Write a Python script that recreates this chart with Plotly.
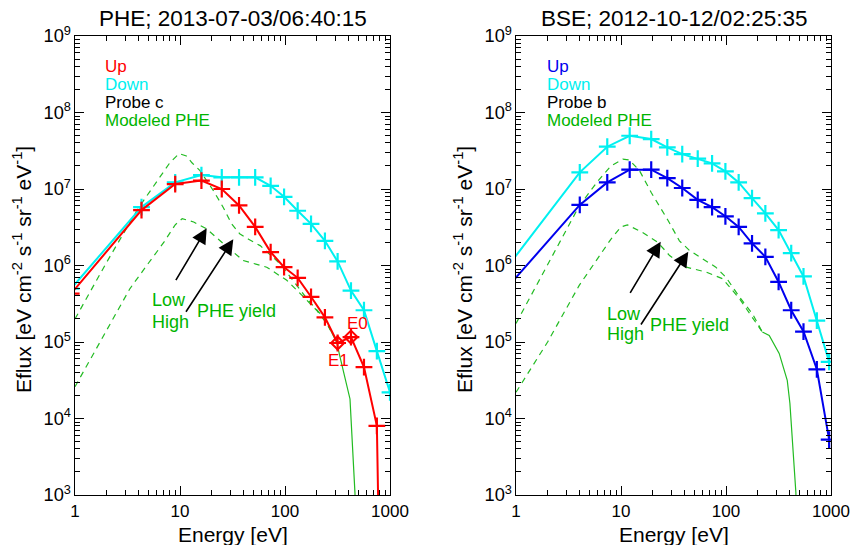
import plotly.graph_objects as go

# ---------------- data: left panel (PHE; 2013-07-03/06:40:15) ----------------
L_energy = [0.92, 4.3, 9.0, 16.0, 25.0, 36.5, 52.0, 73.0, 98.0, 132.0, 177.0, 240.0, 317.0, 425.0, 565.0, 750.0, 1000.0]
L_up = [4.3e5, 5.3e6, 1.16e7, 1.29e7, 1.0e7, 6.1e6, 3.2e6, 1.5e6, 9.5e5, 6.9e5, 3.9e5, 2.1e5, 9.7e4, 1.16e5, 4.7e4, 8.0e3, 1e-6]
L_down = [5.0e5, 5.8e6, 1.22e7, 1.52e7, 1.42e7, 1.42e7, 1.42e7, 1.1e7, 7.9e6, 5.2e6, 3.5e6, 2.1e6, 1.13e6, 4.7e5, 2.6e5, 7.6e4, 2.2e4]
L_E_marks = [317.0, 425.0]
L_F_marks = [9.7e4, 1.16e5]
L_mark_labels = ["E1", "E0"]

L_high_E = [1, 2, 4, 6, 8, 9.8, 11.5, 13, 15.5, 20.8, 25.9, 31, 37, 45, 58, 90, 120, 167, 232, 272]
L_high_F = [2.0e5, 1.1e6, 5.6e6, 1.25e7, 2.2e7, 2.9e7, 2.7e7, 2.2e7, 1.74e7, 9.5e6, 5.7e6, 3.5e6, 2.6e6, 2.2e6, 1.82e6, 1.05e6, 6.4e5, 3.5e5, 2.1e5, 1.42e5]
L_low_E = [1, 2, 3.34, 5, 7, 9, 10.5, 13.5, 18, 26, 40, 67, 104, 150, 200, 250, 272]
L_low_F = [2.6e4, 1.43e5, 5.0e5, 1.07e6, 2.0e6, 3.4e6, 4.1e6, 3.7e6, 3.0e6, 1.92e6, 1.16e6, 9.5e5, 6.4e5, 3.9e5, 2.6e5, 1.74e5, 1.42e5]
L_tail_E = [272, 313, 334, 416, 464, 480]
L_tail_F = [1.42e5, 9.6e4, 6.4e4, 1.8e4, 1.05e3, 1e2]

# ---------------- data: right panel (BSE; 2012-10-12/02:25:35) ----------------
R_energy = [0.8, 4.05, 7.4, 12.1, 19.4, 27.6, 38.3, 53.8, 73.7, 98.7, 132.0, 177.0, 237.0, 317.0, 418.0, 547.0, 733.0, 960.0]
R_up = [4.9e5, 6.2e6, 1.22e7, 1.79e7, 1.79e7, 1.39e7, 1.03e7, 7.2e6, 5.8e6, 4.4e6, 3.2e6, 1.95e6, 1.3e6, 6.1e5, 2.6e5, 1.37e5, 4.4e4, 5.3e3]
R_down = [9.0e5, 1.65e7, 3.57e7, 4.97e7, 4.5e7, 3.5e7, 2.86e7, 2.5e7, 2.16e7, 1.7e7, 1.22e7, 7.6e6, 4.8e6, 2.9e6, 1.45e6, 7.2e5, 1.9e5, 5.5e4]

R_high_E = [1, 2, 4, 6, 8, 10.4, 12, 15, 19.4, 28, 36, 45, 60, 80, 100, 134, 180, 222]
R_high_F = [1.75e5, 1.03e6, 6.0e6, 1.26e7, 2.0e7, 2.45e7, 2.4e7, 1.74e7, 9.0e6, 3.9e6, 2.1e6, 1.57e6, 1.22e6, 9.5e5, 7.0e5, 3.9e5, 2.3e5, 1.35e5]
R_low_E = [1, 2, 4, 6, 8, 10, 11.5, 16, 22.5, 29, 42, 65, 93, 134, 180, 222]
R_low_F = [2.2e4, 1.0e5, 5.5e5, 1.26e6, 2.2e6, 3.2e6, 3.4e6, 2.7e6, 2.0e6, 1.35e6, 9.5e5, 8.2e5, 6.7e5, 3.7e5, 2.1e5, 1.35e5]
R_tail_E = [222, 258, 321, 383, 406, 463, 490]
R_tail_F = [1.35e5, 1.22e5, 7.1e4, 3.16e4, 1.58e4, 1.07e3, 1e1]

left_title = "PHE; 2013-07-03/06:40:15"
right_title = "BSE; 2012-10-12/02:25:35"
left_legend = [("Up", "#ff0000"), ("Down", "#00f0f0"), ("Probe c", "#000000"), ("Modeled PHE", "#00b400")]
right_legend = [("Up", "#0000ee"), ("Down", "#00f0f0"), ("Probe b", "#000000"), ("Modeled PHE", "#00b400")]

RED = "#ff0000"
CYAN = "#00f0f0"
BLUE = "#0000ee"
GREEN = "#22bb22"
GTEXT = "#00b400"
FONT = "Liberation Sans, Arial, Helvetica, sans-serif"

W, H = 859, 545


def P(px, py):
    return px / W, (H - py) / H


fig = go.Figure()


def curve(E, F, color, xa, ya, marker=True):
    fig.add_trace(go.Scatter(
        x=E, y=F, mode="lines+markers" if marker else "lines",
        line=dict(color=color, width=2),
        marker=dict(symbol="cross-thin", size=12, line=dict(color=color, width=2.2)) if marker else None,
        xaxis=xa, yaxis=ya, showlegend=False))


def model(E, F, xa, ya, dash=True):
    fig.add_trace(go.Scatter(
        x=E, y=F, mode="lines",
        line=dict(color=GREEN, width=1.2, dash="6px,5px" if dash else "solid"),
        xaxis=xa, yaxis=ya, showlegend=False))


# left panel
model(L_high_E, L_high_F, "x", "y")
model(L_low_E, L_low_F, "x", "y")
model(L_tail_E, L_tail_F, "x", "y", dash=False)
curve(L_energy, L_down, CYAN, "x", "y")
curve(L_energy, L_up, RED, "x", "y")
fig.add_trace(go.Scatter(
    x=L_E_marks, y=L_F_marks, mode="markers",
    marker=dict(symbol="diamond-open", size=10, color=RED, line=dict(color=RED, width=2)),
    xaxis="x", yaxis="y", showlegend=False))

# right panel
model(R_high_E, R_high_F, "x2", "y2")
model(R_low_E, R_low_F, "x2", "y2")
model(R_tail_E, R_tail_F, "x2", "y2", dash=False)
curve(R_energy, R_down, CYAN, "x2", "y2")
curve(R_energy, R_up, BLUE, "x2", "y2")

# axes
LX = (75, 390)
RX = (516, 831)
YT, YB = 36, 495


def xax(px0, px1):
    return dict(type="log", range=[0, 3], domain=[px0 / W, px1 / W], automargin=False,
                showline=True, linecolor="black", linewidth=1.3, mirror="ticks",
                ticks="inside", ticklen=9, tickwidth=1.3, tickcolor="black",
                dtick=1, exponentformat="none",
                tickfont=dict(family=FONT, size=17, color="black"),
                minor=dict(ticks="inside", ticklen=5, tickwidth=1, tickcolor="black", dtick="D1", showgrid=False),
                showgrid=False, zeroline=False)


def yax(anchor):
    return dict(type="log", range=[3, 9], domain=[(H - YB) / H, (H - YT) / H], anchor=anchor,
                automargin=False,
                showline=True, linecolor="black", linewidth=1.3, mirror="ticks",
                ticks="inside", ticklen=9, tickwidth=1.3, tickcolor="black",
                dtick=1, exponentformat="power", showexponent="all",
                tickfont=dict(family=FONT, size=14.6, color="black"),
                minor=dict(ticks="inside", ticklen=5, tickwidth=1, tickcolor="black", dtick="D1", showgrid=False),
                showgrid=False, zeroline=False)


ann = []


def text(px, py, s, size, color="black", xanchor="center", angle=0):
    x, y = P(px, py)
    ann.append(dict(x=x, y=y, xref="paper", yref="paper", text=s, showarrow=False,
                    xanchor=xanchor, yanchor="middle", textangle=angle,
                    font=dict(family=FONT, size=size, color=color)))


def arrow(hx, hy, tx, ty):
    x, y = P(hx, hy)
    ann.append(dict(x=x, y=y, xref="paper", yref="paper", text="", showarrow=True,
                    ax=tx - hx, ay=ty - hy, arrowhead=2, arrowsize=1.9, arrowwidth=1.6,
                    arrowcolor="black"))


# titles
text((LX[0] + LX[1]) / 2, 18, left_title, 22.5)
text((RX[0] + RX[1]) / 2, 18, right_title, 22.5)
# axis titles
ytitle = "Eflux [eV cm<sup>-2</sup> s<sup>-1</sup> sr<sup>-1</sup> eV<sup>-1</sup>]"
text(22, 270, ytitle, 21, angle=-90)
text(463, 270, ytitle, 21, angle=-90)
text((LX[0] + LX[1]) / 2, 534, "Energy [eV]", 21)
text((RX[0] + RX[1]) / 2, 534, "Energy [eV]", 21)

# in-plot legends
for i, (s, c) in enumerate(left_legend):
    text(103, 67 + 18 * i, s, 17, c, xanchor="left")
for i, (s, c) in enumerate(right_legend):
    text(545, 67 + 18 * i, s, 17, c, xanchor="left")

# yield labels
text(150, 300, "Low", 18, GTEXT, xanchor="left")
text(150, 322, "High", 18, GTEXT, xanchor="left")
text(195, 311, "PHE yield", 18, GTEXT, xanchor="left")
text(605, 314, "Low", 18, GTEXT, xanchor="left")
text(605, 334, "High", 18, GTEXT, xanchor="left")
text(648, 325, "PHE yield", 18, GTEXT, xanchor="left")

# E0 / E1 labels
text(357, 323, L_mark_labels[1], 17, RED)
text(338, 360, L_mark_labels[0], 17, RED)

# arrows
arrow(206.7, 228.3, 175, 281.7)
arrow(233.3, 239.3, 185, 313.3)
arrow(660.7, 241.7, 629.3, 294.3)
arrow(688.3, 251.7, 640, 326)

fig.update_layout(
    width=W, height=H, margin=dict(l=0, r=0, t=0, b=0, pad=0, autoexpand=False),
    paper_bgcolor="white", plot_bgcolor="white",
    xaxis=dict(xax(*LX), anchor="y"),
    yaxis=yax("x"),
    xaxis2=dict(xax(*RX), anchor="y2"),
    yaxis2=yax("x2"),
    annotations=ann,
    font=dict(family=FONT),
)

fig.write_html("out.html")
